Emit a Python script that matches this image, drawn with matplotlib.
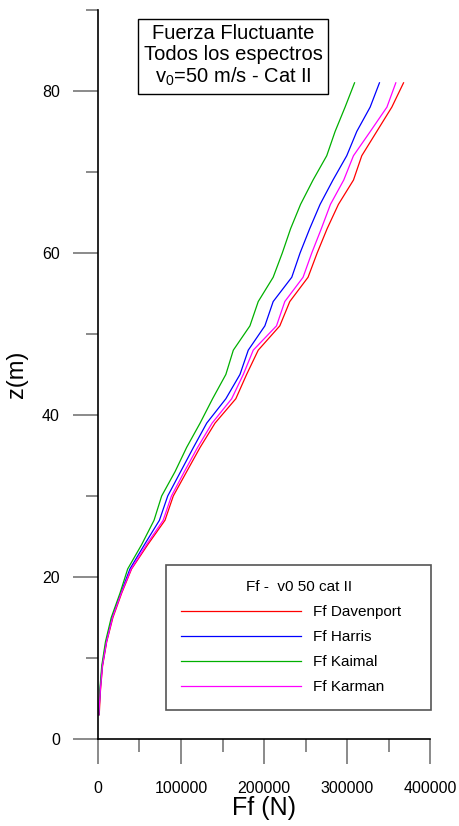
import matplotlib
matplotlib.use('Agg')
import matplotlib.pyplot as plt
from matplotlib.ticker import MultipleLocator

plt.rcParams['font.family'] = ['Liberation Sans', 'DejaVu Sans']

# --- datos ---
z = [3, 6, 9, 12, 15, 18, 21, 24, 27, 30, 33, 36, 39, 42,
     45, 48, 51, 54, 57, 60, 63, 66, 69, 72, 75, 78, 81]

ff_davenport = [1500, 3000, 5500, 10500, 18000, 28500, 40500, 60000, 80700,
                90700, 106800, 123000, 141000, 166000, 179000, 193000, 219000,
                231000, 253000, 264000, 276000, 289600, 307700, 317700, 335800,
                353900, 368000]
ff_harris = [1000, 2500, 5000, 10000, 17000, 27500, 38500, 56000, 74000,
             84000, 99500, 115000, 131000, 154000, 171000, 181000, 201000,
             211000, 233400, 243400, 255000, 267500, 283000, 299600, 311700,
             327800, 339000]
ff_kaimal = [800, 2200, 4500, 9000, 16000, 26500, 35800, 52600, 67500,
             76700, 92800, 106800, 123000, 138000, 154000, 163000, 183000,
             193000, 211000, 222000, 232000, 244000, 259000, 275500, 285600,
             297600, 309000]
ff_karman = [1000, 2800, 5300, 10300, 17500, 28000, 40000, 58500, 78500,
             88500, 104000, 120000, 137500, 161000, 175000, 187000, 215000,
             225000, 247000, 257500, 269000, 280000, 296000, 307700, 328000,
             348000, 358700]

series = [
    ('Ff Davenport', ff_davenport, '#ff0000'),
    ('Ff Harris', ff_harris, '#0000ff'),
    ('Ff Kaimal', ff_kaimal, '#00b000'),
    ('Ff Karman', ff_karman, '#ff00ff'),
]

# --- figura ---
fig = plt.figure(figsize=(4.6, 8.26), dpi=100)
ax = fig.add_axes([0.213, 0.1053, 0.722, 0.8827])

for name, vals, col in series:
    ax.plot(vals, z, color=col, linewidth=0.9, label=name)

ax.set_xlim(0, 400000)
ax.set_ylim(0, 90)

ax.spines['top'].set_visible(False)
ax.spines['right'].set_visible(False)
ax.spines['left'].set_linewidth(1.2)
ax.spines['bottom'].set_linewidth(1.2)

ax.xaxis.set_major_locator(MultipleLocator(100000))
ax.xaxis.set_minor_locator(MultipleLocator(50000))
ax.yaxis.set_major_locator(MultipleLocator(20))
ax.yaxis.set_minor_locator(MultipleLocator(10))
ax.set_yticks([0, 20, 40, 60, 80])

ax.tick_params(which='major', direction='out', length=18, width=1.2,
               color='#777777', labelsize=11.5)
ax.tick_params(which='minor', direction='out', length=9, width=1.2,
               color='#777777')
ax.tick_params(axis='x', which='major', pad=12)
ax.tick_params(axis='y', which='major', pad=9.5)

ax.set_xlabel('Ff (N)', fontsize=18, labelpad=0)
ax.set_ylabel('z(m)', fontsize=17, labelpad=10)

# cuadro de título
ax.text(0.4066, 0.937, 'Fuerza Fluctuante\nTodos los espectros\n'
        r'v$\mathregular{_0}$=50 m/s - Cat II',
        transform=ax.transAxes, ha='center', va='center', fontsize=14.5,
        linespacing=1.12,
        bbox=dict(boxstyle='square,pad=0.3', facecolor='white',
                  edgecolor='black', linewidth=1.0))

leg = ax.legend(loc='upper left', bbox_to_anchor=(0.205, 0.2387, 0.798, 0.0),
                mode='expand', borderaxespad=0, title='Ff -  v0 50 cat II',
                fontsize=11, title_fontsize=11, handlelength=7.8,
                handletextpad=0.8, labelspacing=0.72, borderpad=1.0,
                fancybox=False, framealpha=1)
leg.get_frame().set_edgecolor('#555555')
leg.get_frame().set_linewidth(1.2)

fig.savefig('out.png', dpi=100)
